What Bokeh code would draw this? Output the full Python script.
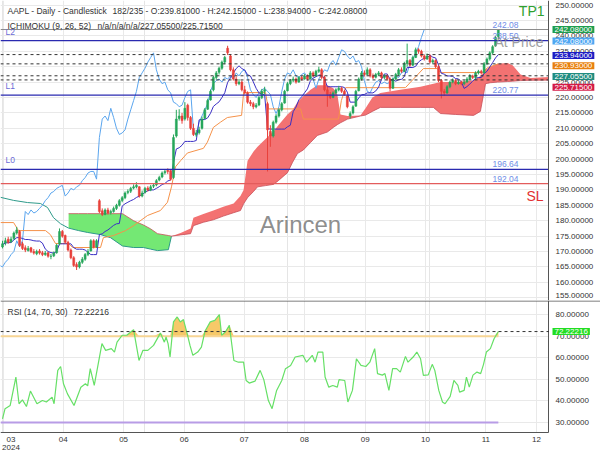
import numpy as np
import pandas as pd
from bokeh.plotting import figure
from bokeh.layouts import column
from bokeh.models import Range1d, FixedTicker, Label, Span, Grid, ColumnDataSource, BoxAnnotation
from bokeh.embed import file_html
from bokeh.resources import INLINE

nan = float("nan")

# ---------------- data ----------------
opens = [171.5, 172.8, 174.0, 173.2, 174.2, 176.0, 176.5, 172.5, 171.2, 170.3,
         171.2, 170.0, 169.3, 170.2, 169.6, 169.0, 169.6, 168.4, 168.6, 169.6,
         172.5, 176.5, 175.2, 173.0, 170.5, 168.0, 165.8, 165.0, 166.5, 167.5,
         169.0, 170.2, 173.5, 171.5, 186.5, 183.2, 182.0, 183.5, 182.6, 183.0,
         184.0, 185.0, 186.6, 187.5, 189.2, 189.6, 190.6, 191.0, 191.0, 188.0,
         189.2, 190.6, 190.0, 191.2, 191.6, 193.2, 194.2, 195.6, 196.4, 196.2,
         194.0, 207.5, 213.2, 214.0, 213.0, 217.5, 213.5, 210.0, 208.0, 208.6,
         210.0, 213.2, 216.2, 219.2, 222.5, 226.5, 228.2, 229.5, 231.5, 236.0,
         233.5, 229.0, 226.0, 224.5, 225.0, 222.5, 221.5, 218.5, 218.0, 217.0,
         217.6, 220.0, 222.0, 218.0, 209.0, 207.5, 212.0, 214.0, 216.0, 218.2,
         222.2, 224.5, 225.6, 226.0, 225.0, 226.5, 226.0, 227.0, 226.0, 228.0,
         227.0, 228.5, 229.0, 226.5, 222.5, 221.0, 220.0, 221.5, 222.5, 223.0,
         222.0, 220.5, 214.0, 215.0, 217.2, 222.2, 226.0, 228.0, 227.5, 229.0,
         227.0, 226.6, 227.5, 228.0, 226.5, 227.0, 226.0, 223.0, 226.0, 227.5,
         229.0, 228.5, 231.0, 232.0, 230.5, 233.0, 235.5, 235.0, 233.5, 232.5,
         233.5, 231.5, 232.0, 230.0, 225.5, 222.0, 221.5, 223.5, 225.0, 225.5,
         224.5, 225.0, 224.5, 225.0, 226.0, 227.0, 226.5, 228.0, 228.5, 228.0,
         231.0, 232.5, 234.5, 236.8, 239.81]
highs = [173.5, 174.5, 174.8, 174.8, 176.5, 178.0, 177.0, 173.2, 172.0, 171.8,
         171.5, 170.8, 170.6, 170.8, 170.2, 170.2, 169.9, 169.2, 170.0, 172.5,
         177.5, 177.0, 175.5, 173.5, 171.0, 168.5, 166.5, 167.0, 168.2, 169.5,
         170.8, 174.0, 174.0, 174.0, 187.0, 184.0, 184.0, 184.2, 183.6, 184.6,
         185.5, 187.0, 188.0, 189.5, 190.2, 191.0, 191.8, 192.5, 191.2, 189.8,
         191.0, 191.2, 191.6, 192.0, 193.5, 194.6, 196.0, 196.6, 197.0, 196.5,
         208.0, 216.0, 216.2, 215.0, 218.5, 218.0, 214.0, 211.5, 209.5, 210.5,
         213.8, 216.6, 219.6, 222.6, 227.0, 228.6, 230.0, 232.0, 233.5, 236.8,
         234.0, 229.8, 226.8, 226.0, 225.5, 223.8, 222.0, 219.2, 218.6, 218.2,
         220.5, 222.8, 223.5, 218.5, 211.0, 212.5, 214.6, 216.5, 218.5, 222.5,
         225.0, 226.0, 226.8, 226.5, 227.0, 227.0, 227.6, 227.5, 228.6, 228.5,
         229.0, 230.0, 229.5, 227.0, 223.5, 221.8, 222.0, 223.0, 223.8, 223.5,
         222.5, 221.0, 215.5, 217.5, 222.5, 226.5, 228.6, 228.8, 229.8, 229.5,
         227.8, 228.0, 228.6, 228.4, 227.6, 227.5, 226.5, 226.5, 228.0, 229.6,
         229.8, 231.6, 237.5, 232.5, 233.6, 236.2, 236.0, 235.5, 234.0, 234.3,
         234.0, 232.6, 232.4, 230.5, 226.0, 222.8, 224.0, 225.5, 226.2, 226.0,
         225.6, 225.5, 225.6, 226.6, 227.6, 227.4, 228.5, 229.0, 229.0, 231.5,
         233.0, 235.0, 237.0, 240.0, 242.15]
lows = [171.0, 172.0, 172.5, 172.8, 173.8, 175.5, 171.5, 170.5, 169.8, 170.0,
        169.5, 169.0, 168.8, 169.0, 168.5, 168.6, 168.0, 167.5, 168.2, 169.3,
        172.0, 174.5, 172.5, 170.0, 167.5, 165.0, 164.0, 164.5, 166.0, 167.0,
        168.5, 170.0, 171.0, 171.2, 182.5, 181.5, 181.8, 182.0, 182.0, 182.6,
        183.5, 184.6, 186.0, 187.0, 188.6, 189.0, 190.2, 190.5, 187.5, 187.6,
        188.8, 189.5, 189.6, 190.6, 191.2, 192.8, 193.8, 195.0, 195.2, 193.0,
        193.6, 207.0, 212.5, 211.5, 212.5, 212.5, 209.5, 207.5, 207.2, 208.0,
        209.6, 213.0, 216.0, 219.0, 222.0, 225.8, 227.5, 229.0, 230.8, 233.8,
        228.5, 225.5, 223.8, 224.0, 222.0, 221.0, 218.0, 217.2, 216.2, 216.5,
        217.2, 219.5, 221.0, 196.0, 204.0, 207.0, 211.5, 213.5, 215.5, 218.0,
        222.0, 224.0, 225.0, 224.5, 224.8, 225.5, 225.8, 225.5, 225.8, 226.6,
        226.8, 228.0, 226.0, 222.0, 217.0, 219.5, 219.8, 221.0, 222.0, 221.5,
        220.6, 216.5, 213.2, 214.5, 217.0, 222.0, 225.5, 226.8, 227.2, 226.5,
        226.0, 226.2, 227.0, 226.0, 226.0, 225.5, 222.0, 222.8, 225.6, 227.0,
        228.0, 228.2, 230.0, 230.0, 230.2, 232.8, 234.2, 233.0, 232.0, 232.2,
        231.0, 231.0, 229.5, 225.0, 219.7, 220.5, 221.2, 223.0, 224.6, 224.0,
        224.2, 224.0, 224.0, 224.8, 225.8, 226.0, 225.7, 227.5, 227.5, 227.8,
        230.5, 232.0, 234.0, 236.5, 238.94]
closes = [172.5, 173.5, 173.0, 174.0, 176.0, 177.0, 172.0, 171.0, 170.5, 171.0,
          170.0, 169.5, 170.0, 169.5, 169.0, 169.5, 168.5, 168.5, 169.5, 172.0,
          176.5, 175.0, 173.0, 170.5, 168.0, 165.5, 165.0, 166.5, 167.5, 169.0,
          170.0, 173.5, 171.5, 173.5, 183.0, 182.0, 183.5, 182.5, 183.0, 184.0,
          185.0, 186.5, 187.5, 189.0, 189.5, 190.5, 191.0, 191.5, 188.0, 189.0,
          190.5, 190.0, 191.0, 191.5, 193.0, 194.0, 195.5, 196.0, 196.0, 193.5,
          207.0, 213.0, 214.0, 212.5, 216.5, 213.5, 210.0, 208.0, 208.5, 209.5,
          213.0, 216.0, 219.0, 222.0, 226.5, 228.0, 229.5, 231.5, 233.0, 234.5,
          229.0, 226.0, 224.5, 225.0, 222.5, 221.5, 218.5, 218.0, 217.0, 217.5,
          220.0, 222.0, 222.5, 209.5, 207.5, 212.0, 214.0, 216.0, 218.0, 222.0,
          224.5, 225.5, 226.0, 225.0, 226.5, 226.0, 227.0, 226.0, 228.0, 227.0,
          228.5, 229.0, 226.5, 222.5, 221.0, 220.0, 221.5, 222.5, 223.0, 222.0,
          221.0, 217.0, 214.8, 217.0, 222.0, 226.0, 228.0, 227.5, 229.0, 227.0,
          226.5, 227.5, 228.0, 226.5, 227.0, 226.0, 223.0, 226.0, 227.5, 229.0,
          228.5, 231.0, 232.0, 230.5, 233.0, 235.5, 235.0, 233.5, 232.5, 233.5,
          231.5, 232.0, 230.0, 225.5, 222.0, 221.5, 223.5, 225.0, 225.5, 224.5,
          225.0, 224.5, 225.0, 226.0, 227.0, 226.5, 228.0, 228.5, 228.0, 231.0,
          232.5, 234.5, 236.5, 239.5, 242.08]
bars = list(range(len(closes)))

kijun_x = [-0.7, 3.9, 5.6, 15.1, 16.8, 18.6, 23.2, 24.6, 34.4, 35.4,
           39.0, 43.2, 46.0, 50.9, 55.4, 57.9, 59.3, 60.7, 62.5, 64.9,
           70.5, 71.9, 74.0, 76.5, 78.9, 83.9, 84.6, 92.3, 93.3, 104.6,
           105.6, 117.9, 118.9, 120.4, 141.4, 143.2, 147.7, 152.6, 153.7, 168.4,
           170.2, 174.0]
kijun_y = [179.4, 179.4, 176.8, 176.8, 175.5, 172.6, 172.6, 171.3, 171.3, 174.5,
           175.2, 176.8, 178.4, 181.7, 183.3, 186.0, 191.0, 197.5, 199.5, 202.0,
           203.5, 205.5, 210.3, 212.0, 213.5, 214.2, 221.6, 221.6, 216.3, 216.3,
           213.0, 213.0, 219.0, 223.2, 223.2, 225.0, 229.4, 229.4, 228.1, 228.1,
           229.7, 230.93]

cloud_x = [-0.7, 3.9, 8.8, 13.3, 15.8, 17.9, 20.4, 23.2, 26.7, 29.8,
           34.4, 37.9, 42.1, 46.0, 49.5, 51.9, 54.4, 58.2, 59.3, 62.5,
           66.0, 67.0, 70.5, 74.0, 77.5, 81.1, 83.5, 84.6, 86.0, 88.1,
           89.5, 92.3, 95.1, 96.8, 100.0, 101.8, 103.5, 105.6, 108.1, 110.5,
           114.0, 116.1, 117.5, 118.6, 121.1, 125.6, 127.4, 129.8, 132.6, 139.6,
           146.7, 151.2, 153.7, 159.0, 165.3, 167.7, 169.5, 171.2, 173.7, 177.2,
           179.0, 181.8, 185.3, 200.0]
span_a = [187.6, 186.6, 185.9, 185.6, 184.3, 181.0, 179.0, 177.6, 176.8, 176.2,
          175.5, 174.5, 171.8, 171.3, 171.3, 170.8, 170.3, 170.6, 175.0, 176.0,
          177.5, 181.0, 182.2, 183.3, 184.5, 185.6, 188.0, 190.0, 199.5, 202.5,
          204.0, 206.5, 209.0, 211.0, 214.5, 216.0, 218.5, 220.5, 222.5, 224.0,
          224.0, 223.0, 221.0, 214.5, 214.0, 214.2, 216.5, 220.0, 221.5, 222.5,
          223.5, 224.5, 225.0, 225.0, 225.5, 227.0, 229.0, 230.0, 231.0, 231.2,
          230.5, 227.5, 226.3, 227.055]
span_b = [nan, nan, nan, nan, nan, nan, nan, 182.3, 182.3, 182.3,
          182.3, 182.3, 182.3, 180.0, 178.6, 177.4, 175.8, 175.2, 175.0, 175.4,
          175.8, 178.4, 179.5, 180.3, 181.5, 182.6, 183.3, 185.5, 187.5, 189.5,
          191.0, 191.4, 191.8, 193.0, 195.6, 199.0, 201.8, 203.0, 205.4, 207.7,
          208.8, 210.3, 211.2, 211.8, 213.0, 214.0, 214.3, 215.5, 216.8, 216.8,
          216.8, 216.8, 214.8, 214.5, 214.2, 215.5, 224.5, 224.8, 225.0, 225.2,
          225.3, 225.5, 225.6, 225.715]

rsi_x = [0.0, 0.9, 2.7, 4.7, 5.8, 7.0, 8.4, 9.8, 12.1, 14.0,
         15.4, 17.4, 18.1, 19.4, 20.4, 21.4, 22.8, 25.1, 27.5, 29.1,
         29.9, 30.8, 32.2, 34.9, 36.2, 38.2, 39.3, 40.2, 42.0, 43.6,
         46.0, 47.9, 49.3, 51.0, 53.0, 55.4, 56.8, 57.4, 58.1, 58.8,
         60.0, 61.3, 62.4, 63.5, 64.8, 65.8, 66.8, 68.5, 69.8, 71.1,
         72.9, 74.5, 76.1, 76.9, 78.2, 79.6, 81.2, 82.8, 84.6, 85.5,
         86.6, 88.6, 90.4, 91.7, 93.3, 94.6, 96.2, 98.0, 99.3, 101.1,
         102.7, 105.4, 106.7, 108.7, 109.7, 110.7, 112.4, 113.2, 114.5, 115.9,
         117.5, 118.1, 120.1, 121.2, 122.8, 124.2, 125.8, 127.5, 128.9, 130.6,
         131.6, 133.3, 134.2, 135.6, 136.9, 138.3, 139.6, 141.4, 142.3, 144.1,
         145.4, 146.7, 147.7, 149.4, 150.8, 151.7, 153.1, 154.4, 155.3, 157.1,
         158.4, 159.8, 160.4, 162.0, 162.8, 163.8, 165.1, 166.5, 167.8, 168.8,
         169.8, 171.2, 172.5, 174.0]
rsi_v = [31.7, 36.4, 37.9, 51.1, 38.7, 40.5, 37.4, 44.6, 38.7, 40.2,
         39.5, 41.8, 38.7, 54.2, 56.0, 48.0, 43.3, 37.9, 46.4, 48.0,
         47.0, 55.0, 47.2, 66.6, 63.5, 64.3, 62.7, 67.3, 70.5, 70.5,
         73.1, 58.8, 63.5, 63.5, 65.8, 71.5, 67.3, 69.7, 66.6, 60.4,
         76.7, 79.0, 76.7, 77.8, 71.3, 65.8, 61.2, 62.7, 65.0, 72.5,
         76.7, 77.4, 80.1, 70.5, 72.0, 75.1, 58.8, 58.0, 58.0, 49.5,
         48.3, 49.2, 54.2, 49.9, 40.2, 36.4, 44.9, 49.5, 55.0, 56.5,
         60.4, 61.2, 58.0, 61.2, 58.0, 62.7, 62.7, 51.1, 46.4, 47.2,
         46.4, 49.9, 49.5, 39.5, 44.9, 59.6, 56.5, 56.0, 58.0, 64.3,
         52.7, 52.0, 52.7, 44.9, 55.0, 55.0, 53.4, 60.7, 58.0, 60.4,
         62.7, 59.6, 51.9, 52.1, 57.0, 54.2, 44.9, 39.5, 38.7, 42.1,
         49.5, 47.2, 44.1, 44.9, 51.1, 46.4, 52.0, 53.4, 52.7, 57.0,
         62.7, 64.3, 68.9, 72.22216]

month_pos = [0.35, 21.3, 42.5, 63.8, 84.8, 106.0, 127.3, 148.4, 169.6, 187.4]
month_labels = ["03", "04", "05", "06", "07", "08", "09", "10", "11", "12"]
year_label = "2024"
price_ticks = [155, 160, 165, 170, 175, 180, 185, 190, 195, 200, 205, 210,
               215, 220, 225, 230, 235, 240, 245, 250]
rsi_ticks = [30, 40, 50, 60, 70, 80]

level_names = ["L2", "L1", "L0"]
level_values = [238.50, 220.77, 196.64]
sl_value = 192.04
last_close = 242.08
tenkan_last, kijun_last, spana_last, spanb_last = 233.94, 230.93, 227.055, 225.715
rsi_last = 72.22216
rsi_upper, rsi_lower = 70, 30
chikou_shift = 26

title_main = "AAPL - Daily - Candlestick"
title_ohlc = "182/235 - O:239.81000 - H:242.15000 - L:238.94000 - C:242.08000"
title_ichi = "ICHIMOKU (9, 26, 52)"
title_ichi_vals = "n/a/n/a/n/a/227.05500/225.71500"
title_rsi = "RSI (14, 70, 30)"

# ---------------- layout helpers ----------------
FONT = "Liberation Sans"
UP, DN = "#26a65b", "#e8403a"
AXC = "#555555"
GRIDC = "#e9e9e9"
X0, X1 = -0.7, 191.6          # x span of the price area (0..548 px)
X2 = X0 + 600 * (X1 - X0) / 548  # full canvas width
Y0, Y1 = 154.1, 251.5
R0, R1 = 17.0, 86.64
BOX_PAD = dict(left=2, right=2, top=1, bottom=1)


def px2x(px):
    return X0 + px / 548 * (X1 - X0)


def py2y(py):
    return Y1 - py / 300 * (Y1 - Y0)


def pr2y(py):
    return R1 - (py - 300) / 150 * (R1 - R0)


def add_text(fig, x, y, text, size="8.5px", color="#333333", align="left",
             baseline="middle", yoff=0, xoff=0, alpha=1.0):
    fig.add_layout(Label(x=x, y=y, x_offset=xoff, y_offset=yoff, text=text, text_font=FONT,
                         text_font_size=size, text_color=color, text_align=align,
                         text_baseline=baseline, text_alpha=alpha))


def add_box(fig, y, text, bg, yoff=0, tcolor="white"):
    fig.add_layout(Label(x=px2x(552), y=y, y_offset=yoff, text=text, text_font=FONT,
                         text_font_size="8px", text_color=tcolor, text_align="left",
                         text_baseline="middle", background_fill_color=bg,
                         padding=BOX_PAD))


def right_axis(fig, ticks, low_nudge=0):
    fig.add_layout(BoxAnnotation(left=px2x(548.5), fill_color="white", fill_alpha=1.0,
                                 line_color=None))
    for i, t in enumerate(ticks):
        add_text(fig, px2x(555), t, "%.5f" % t, size="8px",
                 yoff=(low_nudge if i == 0 else 0))


xr = Range1d(X0, X2)

# ---------------- main panel ----------------
p1 = figure(width=600, height=300, x_range=xr, y_range=Range1d(Y0, Y1),
            output_backend="svg", toolbar_location=None, x_axis_location=None,
            y_axis_location=None, title=None, min_border_left=0,
            min_border_right=0, min_border_top=0, min_border_bottom=0)
p1.outline_line_color = None
p1.add_layout(Grid(dimension=1, ticker=FixedTicker(ticks=price_ticks), grid_line_color=GRIDC))
p1.add_layout(Grid(dimension=0, ticker=FixedTicker(ticks=month_pos), grid_line_color=GRIDC))

# cloud
g0, g1 = 7, 19
p1.varea(x=cloud_x[g0:g1], y1=span_a[g0:g1], y2=span_b[g0:g1],
         fill_color="#74e874", fill_alpha=1.0)
p1.varea(x=cloud_x[g1 - 1:], y1=span_a[g1 - 1:], y2=span_b[g1 - 1:],
         fill_color="#f37272", fill_alpha=1.0)
p1.line(cloud_x[:g1], span_a[:g1], line_color="#2e9a8a", line_width=1)
p1.line(cloud_x[g0:], span_b[g0:], line_color="#c8505a", line_width=1, line_alpha=0.8)

# chikou, kijun, tenkan
p1.line([b - chikou_shift for b in bars], closes, line_color="#5aa5ee", line_width=1)
p1.line(kijun_x, kijun_y, line_color="#f5924a", line_width=1)
hi = pd.Series(highs)
lo = pd.Series(lows)
tenkan = ((hi.rolling(9, min_periods=1).max() + lo.rolling(9, min_periods=1).min()) / 2).tolist()
p1.line(bars, tenkan, line_color="#3a2fc4", line_width=1)

# candles
o = np.array(opens)
c = np.array(closes)
colors = [UP if cc >= oo else DN for oo, cc in zip(opens, closes)]
src = ColumnDataSource(dict(x=bars, h=highs, l=lows, top=np.maximum(o, c),
                            bot=np.minimum(o, c), col=colors))
p1.segment(x0="x", y0="l", x1="x", y1="h", line_color="col", line_width=1, source=src)
p1.vbar(x="x", width=0.7, top="top", bottom="bot", fill_color="col",
        line_color="col", line_width=0.5, source=src)

# horizontal levels
p1.add_layout(Span(location=last_close, dimension="width", line_color="#8c8c8c", line_width=1))
for v in level_values:
    p1.add_layout(Span(location=v, dimension="width", line_color="#2a2ab0", line_width=1.2))
p1.add_layout(Span(location=sl_value, dimension="width", line_color="#e35c5c", line_width=1.2))
for v in [tenkan_last, kijun_last, spana_last, spanb_last]:
    p1.add_layout(Span(location=v, dimension="width", line_color="#333333",
                       line_width=1, line_dash="3 3"))

# texts
add_text(p1, px2x(7), py2y(10.5), title_main)
add_text(p1, px2x(112), py2y(10.5), title_ohlc)
add_text(p1, px2x(7), py2y(25), title_ichi)
add_text(p1, px2x(97), py2y(25), title_ichi_vals)
for name, v in zip(level_names, level_values):
    add_text(p1, px2x(5), v, name, color="#6b6bd6", baseline="bottom", yoff=4)
for v in [last_close] + level_values + [sl_value]:
    add_text(p1, px2x(492), v, "%.2f" % v, color="#6f8de6", baseline="bottom", yoff=2)
add_text(p1, px2x(544), py2y(10), "TP1", size="14px", color="#2ea02e", align="right")
add_text(p1, px2x(543), py2y(41), "At Price", size="14px", color="#8e8e8e", align="right",
         alpha=0.85)
add_text(p1, px2x(543), py2y(195), "SL", size="14px", color="#e33030", align="right")
add_text(p1, px2x(300), py2y(224), "Arincen", size="24px", color="#7f7f7f", align="center",
         alpha=0.9)

# right axis (labels and value boxes)
right_axis(p1, price_ticks, low_nudge=2)
p1.add_layout(Span(location=X1, dimension="height", line_color=AXC, line_width=1))
box_vals = [last_close, last_close, tenkan_last, kijun_last, spana_last, spanb_last]
box_cols = ["#1f9e4e", "#4ea6f2", "#1c1cc4", "#e8800e", "#1f8c80", "#d41a46"]
box_offs = [0, -11.5, -1, -2, -0.7, -7.3]
for v, col, off in zip(box_vals, box_cols, box_offs):
    add_box(p1, v, "%.5f" % v, col, yoff=off)

# ---------------- RSI panel ----------------
p2 = figure(width=600, height=150, x_range=xr, y_range=Range1d(R0, R1),
            output_backend="svg", toolbar_location=None, x_axis_location=None,
            y_axis_location=None, title=None, min_border_left=0, min_border_right=0,
            min_border_top=0, min_border_bottom=0)
p2.outline_line_color = None
p2.add_layout(Grid(dimension=1, ticker=FixedTicker(ticks=rsi_ticks), grid_line_color=GRIDC))
p2.add_layout(Grid(dimension=0, ticker=FixedTicker(ticks=month_pos), grid_line_color=GRIDC))

rv = np.array(rsi_v)
p2.varea(x=rsi_x, y1=[rsi_upper] * len(rsi_x), y2=np.maximum(rv, rsi_upper),
         fill_color="#f5bf4f", fill_alpha=0.85)
p2.line([X0, bars[-1]], [rsi_upper, rsi_upper], line_color="#f7d594", line_width=2)
p2.line([X0, bars[-1]], [rsi_lower, rsi_lower], line_color="#b89ce6", line_width=2)
p2.line(rsi_x, rsi_v, line_color="#66e066", line_width=1.2)
# axis frame lines of the panel
p2.line([X0, X1], [pr2y(432), pr2y(432)], line_color=AXC, line_width=1)
p2.line([X1, X1], [pr2y(300), pr2y(432)], line_color=AXC, line_width=1)
p2.add_layout(Span(location=rsi_last, dimension="width", line_color="#333333",
                   line_width=1, line_dash="3 3"))
# white strips for the axes
p2.add_layout(BoxAnnotation(top=pr2y(432.5), fill_color="white", fill_alpha=1.0,
                            line_color=None))
right_axis(p2, rsi_ticks)
p2.add_layout(Span(location=pr2y(300.5), dimension="width", line_color=AXC, line_width=1))
add_text(p2, px2x(7), pr2y(311), title_rsi)
add_text(p2, px2x(73), pr2y(311), "%.5f" % rsi_last)
add_box(p2, rsi_last, "%.5f" % rsi_last, "#22dd22")
for i, (pos, lab) in enumerate(zip(month_pos, month_labels)):
    add_text(p2, pos, pr2y(438.5), lab, size="8px", align="center",
             xoff=(7.5 if i == 0 else 0))
add_text(p2, month_pos[0], pr2y(446.5), year_label, size="8px", align="center", xoff=7.5)

layout = column(p1, p2)
open("out.html", "w").write(file_html(layout, INLINE))
